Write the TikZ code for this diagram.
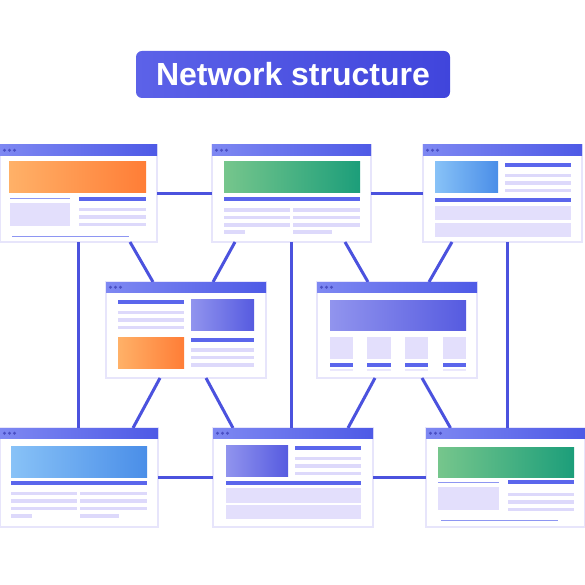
\documentclass[tikz,border=0pt]{standalone}
\usepackage{fontspec}
\setmainfont{Liberation Sans}
\usetikzlibrary{arrows.meta,calc}
\definecolor{linkblue}{HTML}{4B52DE}
\definecolor{barlight}{HTML}{7E88F2}
\definecolor{bardark}{HTML}{4E5AE6}
\definecolor{darkbar}{HTML}{5B66EC}
\definecolor{thinline}{HTML}{8E96F2}
\definecolor{lightline}{HTML}{DDD9FB}
\definecolor{lightbox}{HTML}{E3DFFC}
\definecolor{winedge}{HTML}{E7E5FB}
\definecolor{dotc}{HTML}{4A4FC4}
\definecolor{orangeL}{HTML}{FFB168}
\definecolor{orangeR}{HTML}{FF7D36}
\definecolor{greenL}{HTML}{76C68C}
\definecolor{greenR}{HTML}{1C9E7A}
\definecolor{skyL}{HTML}{88C2F7}
\definecolor{skyR}{HTML}{4A8EE8}
\definecolor{indL}{HTML}{9194EE}
\definecolor{indR}{HTML}{565BE0}
\definecolor{titleL}{HTML}{5C62E8}
\definecolor{titleR}{HTML}{4045DC}

\begin{document}
\begin{tikzpicture}[x=1pt,y=-1pt,
  win/.style={draw=winedge, line width=2pt, fill=white, inner sep=0pt, outer sep=0pt, anchor=north west},
  link/.style={draw=linkblue, line width=3pt},
  titlebox/.style={rounded corners=6pt, left color=titleL, right color=titleR, text=white,
    minimum width=314pt, minimum height=47pt, inner sep=0pt,
    font=\fontsize{32}{38}\selectfont\bfseries}]
\useasboundingbox (0,0) rectangle (585,585);

% title
\node[titlebox] (title) at (293,74.5) {Network structure};

% windows
\node[win, minimum width=157pt, minimum height=97pt] (tl) at (0,145) {};
\node[win, minimum width=159pt, minimum height=97pt] (tm) at (212,145) {};
\node[win, minimum width=159pt, minimum height=97pt] (tr) at (423,145) {};
\node[win, minimum width=160pt, minimum height=96pt] (ml) at (106,282) {};
\node[win, minimum width=160pt, minimum height=96pt] (mr) at (317,282) {};
\node[win, minimum width=158pt, minimum height=99pt] (bl) at (0,428) {};
\node[win, minimum width=160pt, minimum height=99pt] (bm) at (213,428) {};
\node[win, minimum width=159pt, minimum height=99pt] (br) at (426,428) {};

% connectors
\draw[link] (tl.east) -- (tm.west);
\draw[link] (tm.east) -- (tr.west);
\draw[link] (bl.east) -- (bm.west);
\draw[link] (bm.east) -- (br.west);
\draw[link] (tl.south) -- (tl.south |- bl.north);
\draw[link] (tm.south) -- (tm.south |- bm.north);
\draw[link] ([xshift=5pt]tr.south) -- ([xshift=5pt]tr.south |- br.north);
\draw[link] ([xshift=51.5pt]tl.south) -- ([xshift=-33pt]ml.north);
\draw[link] ([xshift=-56.5pt]tm.south) -- ([xshift=27pt]ml.north);
\draw[link] ([xshift=53.5pt]tm.south) -- ([xshift=-29pt]mr.north);
\draw[link] ([xshift=-50.5pt]tr.south) -- ([xshift=32pt]mr.north);
\draw[link] ([xshift=-26pt]ml.south) -- ([xshift=54pt]bl.north);
\draw[link] ([xshift=20pt]ml.south) -- ([xshift=-60pt]bm.north);
\draw[link] ([xshift=-22pt]mr.south) -- ([xshift=55pt]bm.north);
\draw[link] ([xshift=25pt]mr.south) -- ([xshift=-55pt]br.north);

% title bars with dots
\foreach \w in {tl,tm,tr,ml,mr,bl,bm,br} {
  \shade[left color=barlight, right color=bardark] (\w.north west) rectangle ([yshift=-10.5pt]\w.north east);
  \foreach \d in {4.5,9.5,14.5}
    \fill[dotc] ([xshift=\d pt, yshift=-5.25pt]\w.north west) circle (1.6pt);
}

% top left window
\shade[left color=orangeL, right color=orangeR] (9,162) rectangle (146,193);
\fill[thinline] (10,197.5) rectangle (70,199);
\fill[lightbox] (10,203) rectangle (70,226);
\fill[darkbar] (79,197) rectangle (146,201);
\foreach \y in {207.5,215,222.5} \fill[lightline] (79,\y) rectangle (146,\y+3.5);
\fill[thinline] (12,235.5) rectangle (129,237);

% top middle window
\shade[left color=greenL, right color=greenR] (224,162) rectangle (360,193);
\fill[darkbar] (224,197) rectangle (360,201);
\foreach \y in {208,215.5,223} {
  \fill[lightline] (224,\y) rectangle (290,\y+3.5);
  \fill[lightline] (293,\y) rectangle (360,\y+3.5);
}
\fill[lightline] (224,230) rectangle (245,233.5);
\fill[lightline] (293,230) rectangle (332,233.5);

% top right window
\shade[left color=skyL, right color=skyR] (435,162) rectangle (498,193);
\fill[darkbar] (505,163) rectangle (571,167);
\foreach \y in {174,181.5,189} \fill[lightline] (505,\y) rectangle (571,\y+3.5);
\fill[darkbar] (435,198) rectangle (571,202);
\fill[lightbox] (435,206) rectangle (571,220);
\fill[lightbox] (435,223) rectangle (571,237);

% middle left window
\fill[darkbar] (118,300) rectangle (184,304);
\foreach \y in {310.5,318,325.5} \fill[lightline] (118,\y) rectangle (184,\y+3.5);
\shade[left color=indL, right color=indR] (191,299) rectangle (254,330);
\shade[left color=orangeL, right color=orangeR] (118,337) rectangle (184,368);
\fill[darkbar] (191,338) rectangle (254,342);
\foreach \y in {348,355.5,363} \fill[lightline] (191,\y) rectangle (254,\y+3.5);

% middle right window
\shade[left color=indL, right color=indR] (330,300) rectangle (466,330);
\foreach \a/\b in {330/353,367/391,405/428,443/466} {
  \fill[lightbox] (\a,337) rectangle (\b,359);
  \fill[darkbar] (\a,363) rectangle (\b,367);
  \fill[lightline!60] (\a,369) rectangle (\b,371);
}

% bottom left window
\shade[left color=skyL, right color=skyR] (11,446) rectangle (147,477);
\fill[darkbar] (11,481) rectangle (147,485);
\foreach \y in {491.5,499,506.5} {
  \fill[lightline] (11,\y) rectangle (77,\y+3.5);
  \fill[lightline] (80,\y) rectangle (147,\y+3.5);
}
\fill[lightline] (11,514) rectangle (32,517.5);
\fill[lightline] (80,514) rectangle (119,517.5);

% bottom middle window
\shade[left color=indL, right color=indR] (226,445) rectangle (288,476);
\fill[darkbar] (295,446) rectangle (361,450);
\foreach \y in {456.5,464,471.5} \fill[lightline] (295,\y) rectangle (361,\y+3.5);
\fill[darkbar] (226,481) rectangle (361,485);
\fill[lightbox] (226,488) rectangle (361,503);
\fill[lightbox] (226,505) rectangle (361,519);

% bottom right window
\shade[left color=greenL, right color=greenR] (438,447) rectangle (574,477);
\fill[thinline] (438,481.5) rectangle (499,483);
\fill[lightbox] (438,487) rectangle (499,510);
\fill[darkbar] (508,480) rectangle (574,484);
\foreach \y in {492.5,500,507.5} \fill[lightline] (508,\y) rectangle (574,\y+3.5);
\fill[thinline] (441,519.5) rectangle (558,521);
\end{tikzpicture}
\end{document}
